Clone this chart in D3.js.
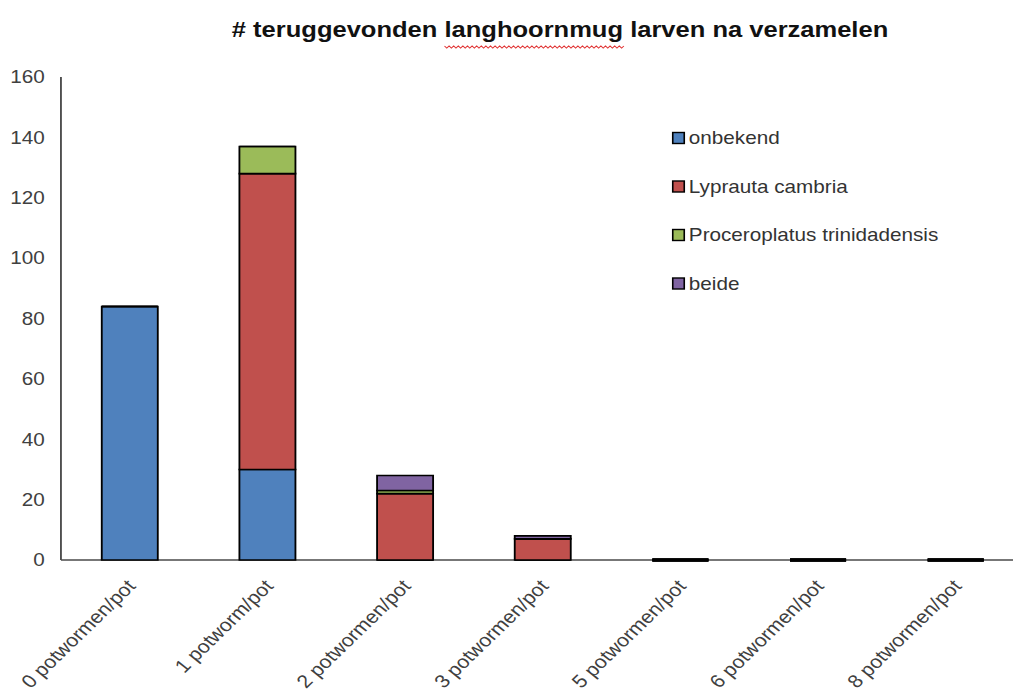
<!DOCTYPE html>
<html lang="nl">
<head>
<meta charset="utf-8">
<style>
  body { margin: 0; background: #fff; }
  svg { display: block; font-family: "Liberation Sans", Arial, sans-serif; }
</style>
</head>
<body>
<svg class="chart"></svg>
<script src="https://cdn.jsdelivr.net/npm/d3@7"></script>
<script>
// data
const categories = ["0 potwormen/pot", "1 potworm/pot", "2 potwormen/pot", "3 potwormen/pot",
                    "5 potwormen/pot", "6 potwormen/pot", "8 potwormen/pot"];
const seriesNames = ["onbekend", "Lyprauta cambria", "Proceroplatus trinidadensis", "beide"];
const onbekend   = [84, 30, 0, 0, 0, 0, 0];
const lyprauta   = [0, 98, 22, 7, 0, 0, 0];
const procero    = [0, 9, 1, 0, 0, 0, 0];
const beide      = [0, 0, 5, 1, 0, 0, 0];
const yTicks = [0, 20, 40, 60, 80, 100, 120, 140, 160];
const colors = ["#4f81bd", "#c0504d", "#9bbb59", "#8064a2"];

const W = 1013, H = 693;
const sx = 1.15;              // the source picture is stretched sideways
const innerW = W / sx;

const svg = d3.select(".chart").attr("width", W).attr("height", H);
const g = svg.append("g").attr("transform", `scale(${sx},1)`);

const rows = categories.map((c, i) => ({
  cat: c,
  onbekend: onbekend[i], lyprauta: lyprauta[i], procero: procero[i], beide: beide[i]
}));
const keys = ["onbekend", "lyprauta", "procero", "beide"];
const stacked = d3.stack().keys(keys)(rows);
const totals = rows.map(r => keys.reduce((s, k) => s + r[k], 0));

const x = d3.scaleBand().domain(categories).range([53, 53 + 7 * 119.7]).paddingInner(0.593).paddingOuter(0.2965);
const y = d3.scaleLinear().domain([0, 160]).range([560, 77]);

// title
const title = g.append("text")
  .attr("x", 487).attr("y", 37)
  .attr("text-anchor", "middle")
  .attr("font-size", 22.2).attr("font-weight", "bold").attr("fill", "#111");
title.append("tspan").text("# teruggevonden ");
title.append("tspan").attr("class", "sp").text("langhoornmug");
title.append("tspan").text(" larven na verzamelen");

// spell-check squiggle under the word
const sp = title.select(".sp").node();
const start = title.node().getStartPositionOfChar(16).x;
const wlen = sp.getComputedTextLength();
const sq = d3.path();
sq.moveTo(start, 46);
for (let px = start, k = 0; px < start + wlen; px += 2, k++) sq.lineTo(px + 2, k % 2 ? 46 : 48);
g.append("path").attr("d", sq.toString()).attr("fill", "none").attr("stroke", "#e03030").attr("stroke-width", 0.9);

// axes
g.append("line").attr("x1", 53).attr("x2", innerW + 20).attr("y1", y(0)).attr("y2", y(0))
  .attr("stroke", "#4a4a4a").attr("stroke-width", 1.6);
g.append("line").attr("x1", 53).attr("x2", 53).attr("y1", y(160)).attr("y2", y(0))
  .attr("stroke", "#4a4a4a").attr("stroke-width", 1.6);

g.selectAll(".ytick").data(yTicks).enter().append("text")
  .attr("class", "ytick")
  .attr("x", 39).attr("y", d => y(d)).attr("dy", "0.35em")
  .attr("text-anchor", "end").attr("font-size", 18).attr("fill", "#404040")
  .text(d => d);

g.selectAll(".xlab").data(categories).enter().append("text")
  .attr("class", "xlab")
  .attr("transform", d => `translate(${x(d) + x.bandwidth() / 2 + 6},${587}) rotate(-48)`)
  .attr("text-anchor", "end").attr("font-size", 18.5).attr("fill", "#404040")
  .text(d => d);

// bars (paths so that zero-height segments still show their outline)
g.selectAll(".series").data(stacked).enter().append("g")
  .attr("class", "series")
  .attr("fill", (d, i) => colors[i])
  .selectAll("path").data(d => d).enter().append("path")
  .attr("d", d => {
    const x0 = x(d.data.cat), w = x.bandwidth();
    const p = d3.path();
    p.rect(x0, y(d[1]), w, y(d[0]) - y(d[1]));
    return p.toString();
  })
  .attr("stroke", "#000")
  .attr("stroke-width", (d, i) => totals[categories.indexOf(d.data.cat)] === 0 ? 3.2 : 1.6);

// legend
const leg = g.selectAll(".leg").data(seriesNames).enter().append("g")
  .attr("class", "leg")
  .attr("transform", (d, i) => `translate(585,${138 + i * 48.5})`);
leg.append("rect").attr("x", 0).attr("y", -5.5).attr("width", 10).attr("height", 11)
  .attr("fill", (d, i) => colors[i]).attr("stroke", "#000").attr("stroke-width", 1.4);
leg.append("text").attr("x", 14).attr("dy", "0.35em")
  .attr("font-size", 18).attr("fill", "#333")
  .text(d => d);
</script>
</body>
</html>
